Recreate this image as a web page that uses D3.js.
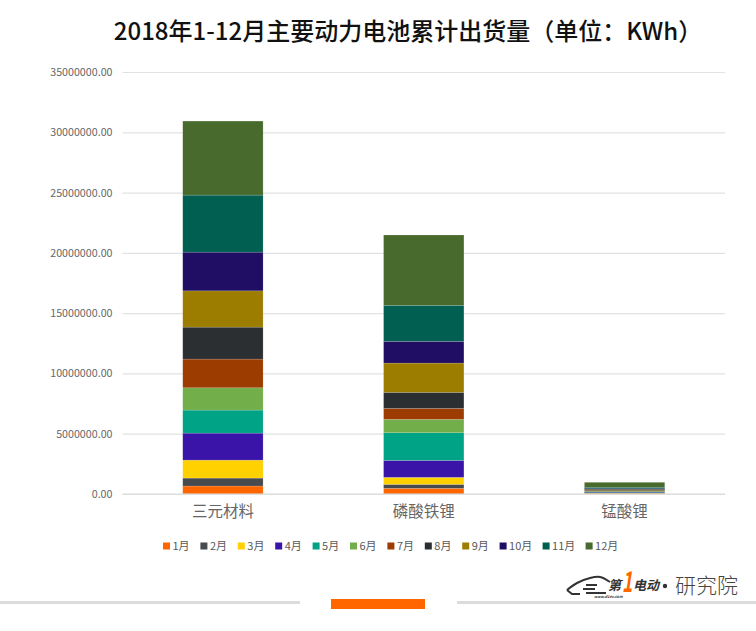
<!DOCTYPE html>
<html>
<head>
<meta charset="utf-8">
<script src="https://cdn.jsdelivr.net/npm/d3@7"></script>
<style>
html, body { margin: 0; padding: 0; background: #fff; }
svg { display: block; }
text { font-family: "Noto Sans CJK SC", "Open Sans", sans-serif; }
</style>
</head>
<body>
<svg id="chart" width="756" height="631"></svg>
<script>
var categories = ["三元材料", "磷酸铁锂", "锰酸锂"];
var months = ["1月", "2月", "3月", "4月", "5月", "6月", "7月", "8月", "9月", "10月", "11月", "12月"];
var tickValues = [0, 5000000, 10000000, 15000000, 20000000, 25000000, 30000000, 35000000];

// kWh per month
var sanyuan = [660000, 660000, 1490000, 2240000, 1910000, 1850000, 2380000, 2650000, 3010000, 3210000, 4730000, 6140000];
var linsuan = [470000, 330000, 580000, 1410000, 2290000, 1110000, 910000, 1330000, 2430000, 1800000, 2990000, 5830000];
var mengsuan = [30000, 30000, 30000, 50000, 50000, 40000, 40000, 40000, 70000, 70000, 100000, 420000];

var colors = ["#ff6600", "#474b4d", "#ffd100", "#3a14a8", "#00a385", "#72ae4a", "#9c3c00", "#2b2f32", "#9c7d00", "#200e64", "#005f50", "#486a2c"];

var svg = d3.select("#chart");

var x = d3.scaleBand()
  .domain(categories)
  .range([122.5, 725])
  .paddingInner(0.6)
  .paddingOuter(0.3);

var y = d3.scaleLinear()
  .domain([0, 35000000])
  .range([494, 72]);

var color = d3.scaleOrdinal().domain(months).range(colors);

// title
svg.append("text")
  .attr("x", 408)
  .attr("y", 40)
  .attr("text-anchor", "middle")
  .attr("font-size", 24)
  .attr("font-weight", 500)
  .attr("fill", "#111")
  .text("2018年1-12月主要动力电池累计出货量（单位：KWh）");

// y axis + grid
var yAxis = d3.axisLeft(y)
  .tickValues(tickValues)
  .tickSize(-602.5)
  .tickPadding(10)
  .tickFormat(d3.format(".2f"));

var yG = svg.append("g")
  .attr("transform", "translate(122.5,0)")
  .call(yAxis);
yG.select(".domain").remove();
yG.selectAll("line").attr("stroke", "#e2e2e2").attr("stroke-width", 1.2);
yG.selectAll("text")
  .attr("font-size", 10.7)
  .attr("fill", "#666");

// stacks, one row per category
var rows = categories.map(function(c, i){
  var series = [sanyuan, linsuan, mengsuan][i];
  var row = { cat: c };
  months.forEach(function(m, j){ row[m] = series[j]; });
  return row;
});
var stacked = d3.stack().keys(months)(rows);

svg.append("g").selectAll("g")
  .data(stacked)
  .enter()
  .append("g")
  .attr("fill", function(d){ return color(d.key); })
  .selectAll("rect")
  .data(function(d){ return d; })
  .enter()
  .append("rect")
  .attr("x", function(d){ return x(d.data.cat); })
  .attr("width", x.bandwidth())
  .attr("y", function(d){ return y(d[1]); })
  .attr("height", function(d){ return y(d[0]) - y(d[1]); })
  .attr("stroke", "#fff")
  .attr("stroke-opacity", function(d){ return y(d[0]) - y(d[1]) > 3 ? 0.25 : 0; })	// thin bands lose their colour otherwise
  .attr("stroke-width", 0.6);

// baseline + category labels
svg.append("line")
  .attr("x1", 122.5).attr("x2", 725)
  .attr("y1", y(0)).attr("y2", y(0))
  .attr("stroke", "#d9d9d9")
  .attr("stroke-width", 1.2);

var xAxis = d3.axisBottom(x).tickSize(0).tickPadding(12);
var xG = svg.append("g")
  .attr("transform", "translate(0," + y(0) + ")")
  .call(xAxis);
xG.select(".domain").remove();
xG.selectAll("text")
  .attr("font-size", 15.5)
  .attr("fill", "#666");

// legend
var legendX = 163;
var legend = svg.append("g");
months.forEach(function(m, i){
  legend.append("rect")
    .attr("x", legendX)
    .attr("y", 542.5)
    .attr("width", 7)
    .attr("height", 7)
    .attr("fill", colors[i]);
  legend.append("text")
    .attr("x", legendX + 9.5)
    .attr("y", 550)
    .attr("font-size", 11)
    .attr("fill", "#595959")
    .text(m);
  legendX += m.length > 2 ? 43 : 37.4;
});

// footer bars
var footer = svg.append("g");
footer.append("rect").attr("x", 0).attr("y", 601).attr("width", 300).attr("height", 3).attr("fill", "#dcdcdc");
footer.append("rect").attr("x", 457).attr("y", 601).attr("width", 299).attr("height", 3).attr("fill", "#dcdcdc");
footer.append("rect").attr("x", 331).attr("y", 599).attr("width", 94).attr("height", 10).attr("fill", "#ff6600");

// logo
var logo = svg.append("g");
var carLine = d3.line().curve(d3.curveCatmullRom);
logo.append("path")
  .attr("d", carLine([[567, 590], [577, 583], [590, 578], [600, 577], [610, 582]]))
  .attr("fill", "none")
  .attr("stroke", "#333")
  .attr("stroke-width", 2);
logo.append("path")
  .attr("d", d3.line()([[567, 590], [572, 594], [580, 594]]))
  .attr("fill", "none")
  .attr("stroke", "#333")
  .attr("stroke-width", 2);
logo.append("path")
  .attr("d", d3.line()([[586, 593], [606, 593]]))
  .attr("fill", "none")
  .attr("stroke", "#333")
  .attr("stroke-width", 2);
logo.append("path")
  .attr("d", d3.line()([[586, 585], [597, 585]]) + d3.line()([[583, 589], [595, 589]]))
  .attr("fill", "none")
  .attr("stroke", "#333")
  .attr("stroke-width", 2);
logo.append("text")
  .attr("x", 608).attr("y", 590)
  .attr("font-size", 13).attr("font-style", "italic").attr("font-weight", 700)
  .attr("fill", "#333").text("第");
logo.append("text")
  .attr("transform", "translate(622,592) scale(0.8,1.3)")
  .attr("font-size", 22).attr("font-style", "italic").attr("font-weight", 700)
  .attr("font-family", "Liberation Sans")
  .attr("fill", "#ff6600").text("1");
logo.append("text")
  .attr("x", 633).attr("y", 590)
  .attr("font-size", 13).attr("font-style", "italic").attr("font-weight", 700)
  .attr("fill", "#333").text("电动");
logo.append("text")
  .attr("x", 594).attr("y", 598)
  .attr("font-size", 3.8).attr("font-style", "italic").attr("font-weight", 700)
  .attr("font-family", "Liberation Sans")
  .attr("fill", "#333").text("www.d1ev.com");
logo.append("circle")
  .attr("cx", 665).attr("cy", 586).attr("r", 2.2).attr("fill", "#333");
logo.append("text")
  .attr("x", 675).attr("y", 593)
  .attr("font-size", 21).attr("font-weight", 300)
  .attr("fill", "#444").text("研究院");
</script>
</body>
</html>
